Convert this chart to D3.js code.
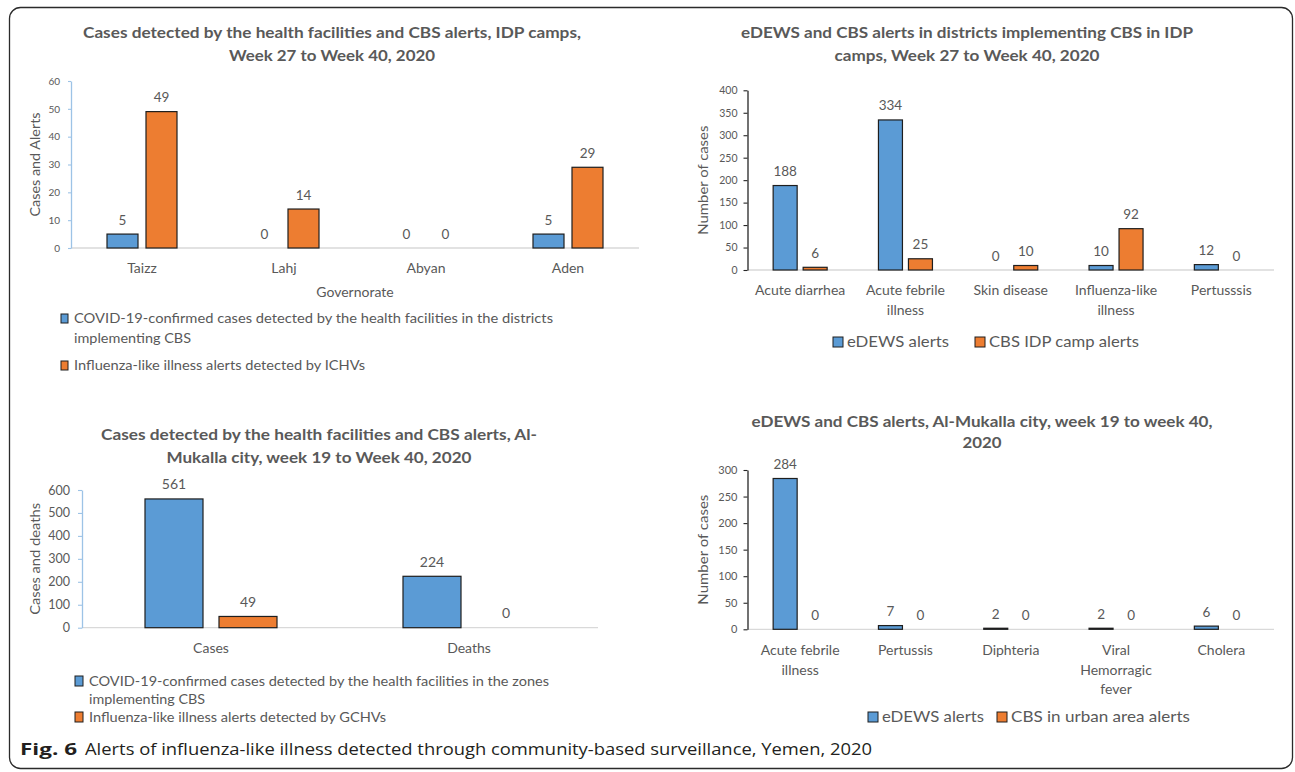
<!DOCTYPE html>
<html>
<head>
<meta charset="utf-8">
<script src="https://cdn.jsdelivr.net/npm/d3@7"></script>
<style>
  body { margin: 0; background: #fff; }
  svg text { font-family: Lato, "Open Sans", sans-serif; fill: #595959; }
</style>
</head>
<body>
<svg id="fig" width="1295" height="772"></svg>
<script>
// ---- Data -------------------------------------------------------------
const govCategories = ["Taizz", "Lahj", "Abyan", "Aden"];
const govCovidCases = [5, 0, 0, 5];
const govIliAlerts = [49, 14, 0, 29];
const govTicks = [0, 10, 20, 30, 40, 50, 60];
const govSeriesNames = [
  "COVID-19-confirmed cases  detected by the health facilities in the districts\nimplementing CBS",
  "Influenza-like illness alerts detected by ICHVs"
];

const idpCategories = ["Acute diarrhea", "Acute febrile\nillness", "Skin disease", "Influenza-like\nillness", "Pertusssis"];
const idpEdewsAlerts = [188, 334, 0, 10, 12];
const idpCbsAlerts = [6, 25, 10, 92, 0];
const idpTicks = [0, 50, 100, 150, 200, 250, 300, 350, 400];
const idpSeriesNames = ["eDEWS alerts", "CBS IDP camp alerts"];

const mukallaCategories = ["Cases", "Deaths"];
const mukallaCovid = [561, 224];
const mukallaIli = [49, 0];
const mukallaTicks = [0, 100, 200, 300, 400, 500, 600];
const mukallaSeriesNames = [
  "COVID-19-confirmed cases detected by the health facilities in the zones\nimplementing CBS",
  "Influenza-like illness alerts detected by GCHVs"
];

const urbanCategories = ["Acute febrile\nillness", "Pertussis", "Diphteria", "Viral\nHemorragic\nfever", "Cholera"];
const urbanEdewsAlerts = [284, 7, 2, 2, 6];
const urbanCbsAlerts = [0, 0, 0, 0, 0];
const urbanTicks = [0, 50, 100, 150, 200, 250, 300];
const urbanSeriesNames = ["eDEWS alerts", "CBS in urban area alerts"];

const seriesColors = ["#5b9bd5", "#ed7d31"];

// ---- Panel layout ----------------------------------------------------
const panels = [
  {
    title: ["Cases detected by the health facilities and CBS alerts, IDP camps,", "Week 27 to Week 40, 2020"],
    titleX: 332, titleY: [37.5, 60.5], titleW: [498, 206],
    categories: govCategories, series: [govCovidCases, govIliAlerts], ticks: govTicks,
    x0: 71, x1: 639, yTop: 81, y0: 248, barW: 31, gap: 8,
    axisColor: "#9dc3e6", tickFont: 10, tickSize: 3, tickPad: 8,
    valueFont: 13.5, valueOff: 9.5, catFont: 14, catY: 273, catLine: 20,
    yLabel: "Cases and Alerts", yLabelX: 35, yLabelLen: 104, yLabelFont: 13,
    xLabel: "Governorate", xLabelY: 297, xLabelFont: 14,
    legend: { names: govSeriesNames, layout: "rows", font: 14, sqX: 61, sqW: 7, sqH: 9, textX: 74,
              rows: [[323, 342.5], [370]], widths: [[479, 117], [291]] }
  },
  {
    title: ["eDEWS and  CBS alerts in districts implementing  CBS in IDP", "camps, Week 27 to Week 40, 2020"],
    titleX: 967, titleY: [37.5, 60.5], titleW: [452, 265],
    categories: idpCategories, series: [idpEdewsAlerts, idpCbsAlerts], ticks: idpTicks,
    x0: 747.5, x1: 1274, yTop: 90.3, y0: 270, barW: 24, gap: 6,
    axisColor: "#262626", tickFont: 10.5, tickSize: 4, tickPad: 6,
    valueFont: 13.5, valueOff: 9.5, catFont: 14, catY: 295, catLine: 20,
    yLabel: "Number of cases", yLabelX: 703, yLabelLen: 109, yLabelFont: 14,
    legend: { names: idpSeriesNames, layout: "inline", font: 16, baseline: 347, sqW: 10, sqH: 10,
              items: [{ sqX: 833, textX: 847, w: 102 }, { sqX: 975, textX: 989, w: 150 }] }
  },
  {
    title: ["Cases detected by the health facilities and CBS alerts, Al-", "Mukalla city, week 19 to Week 40, 2020"],
    titleX: 319, titleY: [440, 463], titleW: [436, 305],
    categories: mukallaCategories, series: [mukallaCovid, mukallaIli], ticks: mukallaTicks,
    x0: 82, x1: 598, yTop: 490, y0: 627.7, barW: 58, gap: 16,
    axisColor: "#9dc3e6", tickFont: 12.5, tickSize: 4, tickPad: 8,
    valueFont: 14, valueOff: 9.5, catFont: 14, catY: 653, catLine: 20,
    yLabel: "Cases and deaths", yLabelX: 35, yLabelLen: 112, yLabelFont: 13.5,
    legend: { names: mukallaSeriesNames, layout: "rows", font: 14, sqX: 75, sqW: 8, sqH: 10, textX: 89,
              rows: [[686, 704], [722]], widths: [[460, 116], [297]] }
  },
  {
    title: ["eDEWS and CBS alerts, Al-Mukalla city, week 19 to week 40,", "2020"],
    titleX: 982, titleY: [427, 448], titleW: [461, 39],
    categories: urbanCategories, series: [urbanEdewsAlerts, urbanCbsAlerts], ticks: urbanTicks,
    x0: 747.5, x1: 1274, yTop: 470, y0: 629.3, barW: 24, gap: 6,
    axisColor: "#262626", tickFont: 11, tickSize: 4, tickPad: 6,
    valueFont: 13.5, valueOff: 9.5, catFont: 14, catY: 655, catLine: 19.5,
    yLabel: "Number of cases", yLabelX: 703, yLabelLen: 110, yLabelFont: 14,
    legend: { names: urbanSeriesNames, layout: "inline", font: 16, baseline: 722, sqW: 10, sqH: 10,
              items: [{ sqX: 868, textX: 882, w: 102 }, { sqX: 997, textX: 1011, w: 179 }] }
  }
];

const svg = d3.select("#fig");

// Outer frame
svg.append("rect")
  .attr("x", 9.5).attr("y", 7.5).attr("width", 1283).attr("height", 761)
  .attr("rx", 11).attr("fill", "#fff").attr("stroke", "#2b2b2b").attr("stroke-width", 1.3);

function fit(sel, w) {
  sel.attr("textLength", w).attr("lengthAdjust", "spacingAndGlyphs");
}

function drawPanel(p) {
  const g = svg.append("g");

  // Title
  p.title.forEach((line, i) => {
    g.append("text")
      .attr("x", p.titleX).attr("y", p.titleY[i])
      .attr("text-anchor", "middle")
      .style("font-size", "15px").style("font-weight", 700)
      .text(line)
      .call(fit, p.titleW[i]);
  });

  const x = d3.scaleBand().domain(p.categories).range([p.x0, p.x1]);
  const n = p.series.length;
  const groupW = n * p.barW + (n - 1) * p.gap;
  const xs = d3.scaleBand().domain(d3.range(n))
    .range([-groupW / 2, groupW / 2])
    .paddingInner(p.gap / (p.barW + p.gap));
  const y = d3.scaleLinear().domain([0, d3.max(p.ticks)]).range([p.y0, p.yTop]);

  // Baseline
  g.append("line")
    .attr("x1", p.x0).attr("x2", p.x1)
    .attr("y1", y(0)).attr("y2", y(0))
    .attr("stroke", "#d9d9d9").attr("stroke-width", 1.3);

  // Y axis
  const ax = g.append("g")
    .attr("transform", `translate(${p.x0},0)`)
    .call(d3.axisLeft(y).tickValues(p.ticks).tickSize(p.tickSize).tickSizeOuter(0).tickPadding(p.tickPad));
  ax.select(".domain").attr("stroke", p.axisColor).attr("stroke-width", 1.3);
  ax.selectAll(".tick line").attr("stroke", p.axisColor).attr("stroke-width", 1.1);
  ax.selectAll(".tick text")
    .style("font-family", "Lato, sans-serif").style("font-size", p.tickFont + "px")
    .attr("fill", "#595959");

  // Bars and value labels
  p.series.forEach((vals, si) => {
    const rows = p.categories.map((c, ci) => ({ c, v: vals[ci] }));
    g.selectAll(null).data(rows.filter(d => d.v > 0)).enter().append("rect")
      .attr("x", d => x(d.c) + x.bandwidth() / 2 + xs(si))
      .attr("y", d => y(d.v))
      .attr("width", xs.bandwidth())
      .attr("height", d => y(0) - y(d.v))
      .attr("fill", seriesColors[si])
      .attr("stroke", "#1e1e1e").attr("stroke-width", 1.2);
    g.selectAll(null).data(rows).enter().append("text")
      .attr("x", d => x(d.c) + x.bandwidth() / 2 + xs(si) + xs.bandwidth() / 2)
      .attr("y", d => y(d.v) - p.valueOff)
      .attr("text-anchor", "middle")
      .style("font-size", p.valueFont + "px")
      .text(d => d.v);
  });

  // Category labels
  p.categories.forEach(c => {
    const t = g.append("text")
      .attr("text-anchor", "middle")
      .style("font-size", p.catFont + "px");
    c.split("\n").forEach((line, i) => {
      t.append("tspan")
        .attr("x", x(c) + x.bandwidth() / 2)
        .attr("y", p.catY + i * p.catLine)
        .text(line);
    });
  });

  // Axis titles
  g.append("text")
    .attr("transform", `translate(${p.yLabelX},${(p.y0 + p.yTop) / 2}) rotate(-90)`)
    .attr("text-anchor", "middle").attr("dy", "0.35em")
    .style("font-size", p.yLabelFont + "px")
    .text(p.yLabel)
    .call(fit, p.yLabelLen);
  if (p.xLabel) {
    g.append("text")
      .attr("x", (p.x0 + p.x1) / 2).attr("y", p.xLabelY)
      .attr("text-anchor", "middle")
      .style("font-size", p.xLabelFont + "px")
      .text(p.xLabel);
  }

  // Legend
  const L = p.legend;
  if (L.layout === "rows") {
    L.names.forEach((name, si) => {
      const lines = name.split("\n");
      const base = L.rows[si];
      g.append("rect")
        .attr("x", L.sqX).attr("y", base[0] - L.sqH)
        .attr("width", L.sqW).attr("height", L.sqH)
        .attr("fill", seriesColors[si]).attr("stroke", "#1e1e1e").attr("stroke-width", 1);
      lines.forEach((line, li) => {
        g.append("text")
          .attr("x", L.textX).attr("y", base[li])
          .style("font-size", L.font + "px")
          .text(line)
          .call(fit, L.widths[si][li]);
      });
    });
  } else {
    L.names.forEach((name, si) => {
      const it = L.items[si];
      g.append("rect")
        .attr("x", it.sqX).attr("y", L.baseline - L.sqH)
        .attr("width", L.sqW).attr("height", L.sqH)
        .attr("fill", seriesColors[si]).attr("stroke", "#1e1e1e").attr("stroke-width", 1);
      g.append("text")
        .attr("x", it.textX).attr("y", L.baseline)
        .style("font-size", L.font + "px")
        .text(name)
        .call(fit, it.w);
    });
  }
}

panels.forEach(drawPanel);

// Figure caption
svg.append("text")
  .attr("x", 20).attr("y", 755)
  .style("font-family", "'Open Sans', sans-serif").style("font-size", "16px").style("font-weight", 700)
  .attr("fill", "#231f20").style("fill", "#231f20")
  .text("Fig. 6")
  .call(fit, 57);
svg.append("text")
  .attr("x", 85).attr("y", 755)
  .style("font-family", "'Open Sans', sans-serif").style("font-size", "16px")
  .style("fill", "#231f20")
  .text("Alerts of influenza-like illness detected through community-based surveillance, Yemen, 2020")
  .call(fit, 787);
</script>
</body>
</html>
